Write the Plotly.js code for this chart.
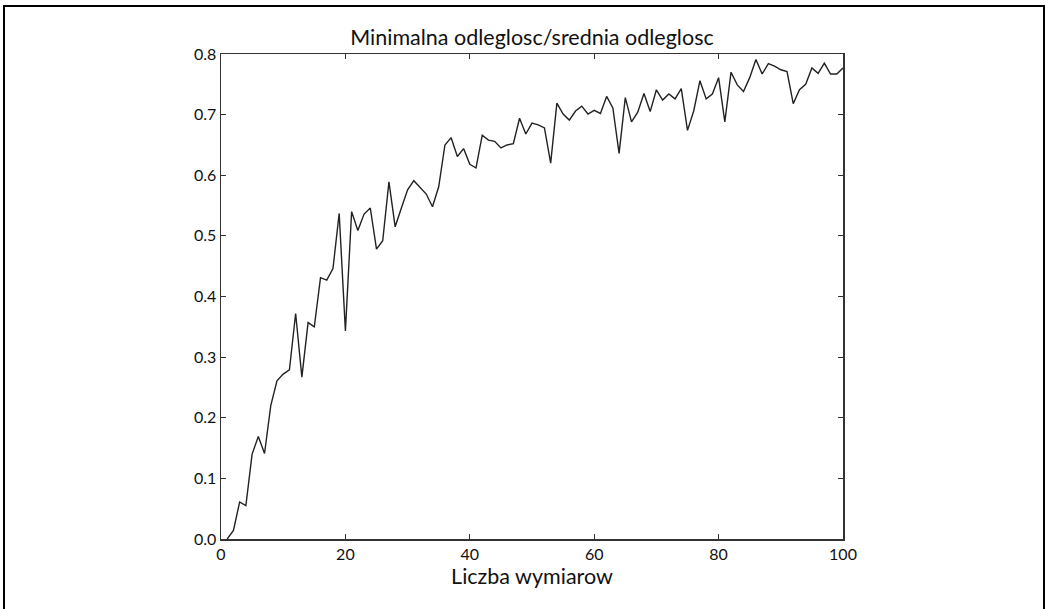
<!DOCTYPE html>
<html>
<head>
<meta charset="utf-8">
<script src="https://cdn.plot.ly/plotly-3.0.1.min.js"></script>
<style>
html,body{margin:0;padding:0;background:#fff;overflow:hidden;}
#wrap{position:relative;width:1045px;height:609px;}
#chart{position:absolute;left:0;top:0;width:1045px;height:609px;}
#frame{position:absolute;left:3px;top:5px;width:1038px;height:620px;border:2px solid #000;border-bottom:none;pointer-events:none;}
</style>
</head>
<body>
<div id="wrap"><div id="chart"></div><div id="frame"></div></div>
<script>
const dimensions = [];
for (let i = 1; i <= 100; i++) dimensions.push(i);
const ratio = [
  0.000, 0.014, 0.061, 0.055, 0.140, 0.169, 0.141, 0.220, 0.261, 0.272,
  0.279, 0.372, 0.267, 0.357, 0.350, 0.431, 0.427, 0.446, 0.537, 0.343,
  0.540, 0.509, 0.536, 0.546, 0.478, 0.492, 0.589, 0.515, 0.546, 0.576,
  0.591, 0.580, 0.569, 0.548, 0.581, 0.650, 0.662, 0.631, 0.644, 0.618,
  0.612, 0.666, 0.658, 0.656, 0.645, 0.650, 0.652, 0.694, 0.668, 0.686,
  0.683, 0.678, 0.620, 0.719, 0.701, 0.691, 0.706, 0.714, 0.701, 0.707,
  0.702, 0.730, 0.711, 0.636, 0.728, 0.688, 0.704, 0.735, 0.705, 0.741,
  0.724, 0.734, 0.726, 0.743, 0.674, 0.706, 0.756, 0.726, 0.734, 0.761,
  0.688, 0.770, 0.749, 0.738, 0.761, 0.791, 0.767, 0.784, 0.780, 0.774,
  0.771, 0.718, 0.741, 0.750, 0.777, 0.768, 0.785, 0.767, 0.767, 0.777
];
const xTicks = [0, 20, 40, 60, 80, 100];
const yTicks = [0.0, 0.1, 0.2, 0.3, 0.4, 0.5, 0.6, 0.7, 0.8];
const chartTitle = 'Minimalna odleglosc/srednia odleglosc';
const xLabel = 'Liczba wymiarow';

const FONT = 'Lato, "Open Sans", sans-serif';
const trace = {
  x: dimensions, y: ratio, type: 'scatter', mode: 'lines',
  line: {color: '#222222', width: 1.4}, hoverinfo: 'skip'
};
const layout = {
  width: 1045, height: 609,
  margin: {l: 221, r: 202, t: 54, b: 70},
  paper_bgcolor: '#ffffff', plot_bgcolor: '#ffffff',
  showlegend: false,
  font: {family: FONT, color: '#111', size: 16},
  title: {text: chartTitle, font: {family: FONT, size: 21.5, color: '#111'},
          x: 0.5, xref: 'paper', xanchor: 'center', y: 1 - 37/609, yref: 'container', yanchor: 'middle'},
  xaxis: {
    range: [0, 100], tickvals: xTicks, ticktext: xTicks.map(String),
    ticks: 'inside', ticklen: 5, tickwidth: 1, tickcolor: '#333',
    showline: true, linecolor: '#333', linewidth: 1.5, mirror: 'ticks',
    showgrid: false, zeroline: false,
    tickfont: {size: 16, color: '#111'},
    title: {text: xLabel, font: {size: 21.5, color: '#111'}, standoff: 6}
  },
  yaxis: {
    range: [0, 0.8], tickvals: yTicks, ticktext: yTicks.map(v => v.toFixed(1)),
    ticks: 'inside', ticklen: 5, tickwidth: 1, tickcolor: '#333',
    showline: true, linecolor: '#333', linewidth: 1.5, mirror: 'ticks',
    showgrid: false, zeroline: false,
    tickfont: {size: 16, color: '#111'}
  }
};
Plotly.newPlot('chart', [trace], layout, {staticPlot: true, displayModeBar: false});
</script>
</body>
</html>
